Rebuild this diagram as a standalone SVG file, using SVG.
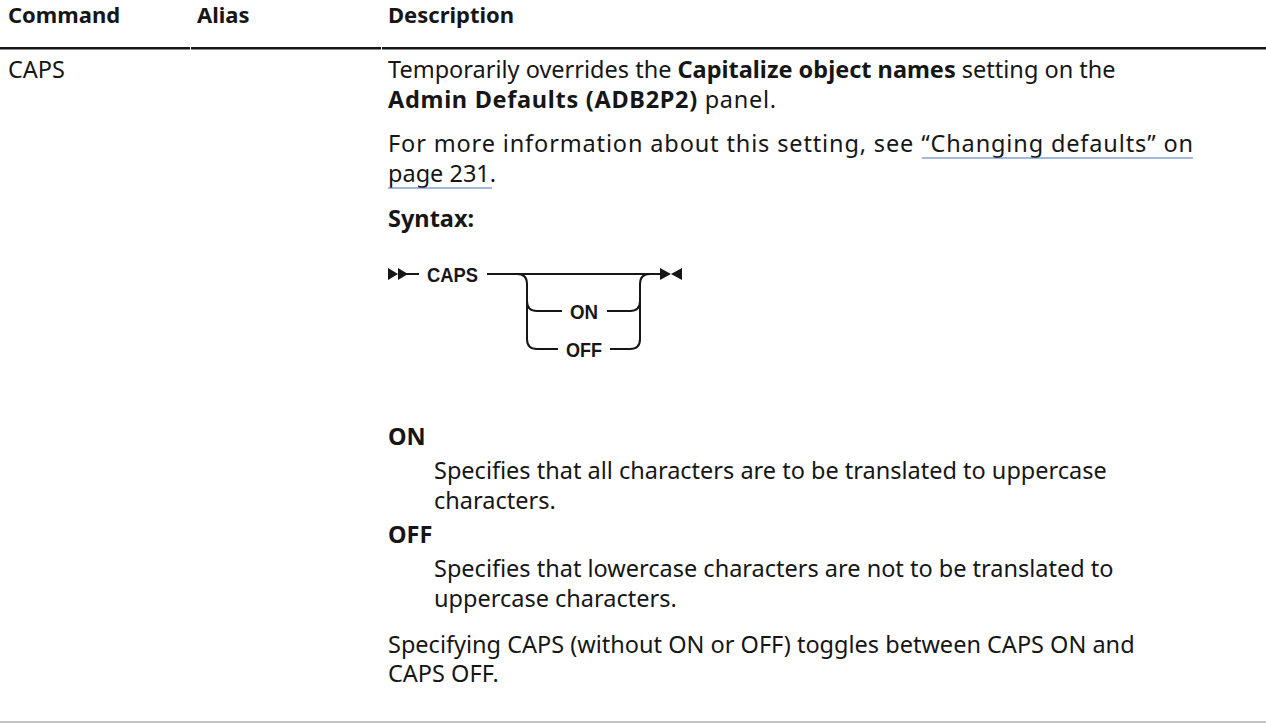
<svg xmlns="http://www.w3.org/2000/svg" width="1266" height="723" viewBox="0 0 1266 723">
<style>
text{font-family:"Noto Sans","Open Sans",sans-serif;font-size:23.5px;fill:#161616}
.h{font-size:22px;font-weight:bold}
.b{font-weight:bold}
.rr{font-family:"Liberation Sans",Arial,sans-serif;font-weight:bold;font-size:20px}
.ln{stroke:#161616;stroke-width:2;fill:none}
.ul{stroke:#4a6fb5;stroke-width:1}
</style>
<rect width="1266" height="723" fill="#fff"/>
<g id="header">
<text class="h" x="8" y="23">Command</text>
<text class="h" x="197" y="23">Alias</text>
<text class="h" x="388" y="23">Description</text>
<rect x="0" y="47" width="190" height="2.5" fill="#161616"/>
<rect x="191" y="47" width="190" height="2.5" fill="#161616"/>
<rect x="382" y="47" width="884" height="2.5" fill="#161616"/>
</g>
<g id="row">
<text x="8" y="78">CAPS</text>
<text x="388" y="78">Temporarily overrides the <tspan class="b">Capitalize object names</tspan> setting on the</text>
<text x="388" y="108" textLength="388" lengthAdjust="spacing"><tspan class="b">Admin Defaults (ADB2P2)</tspan> panel.</text>
<text x="388" y="152" textLength="805" lengthAdjust="spacing">For more information about this setting, see “Changing defaults” on</text>
<line class="ul" x1="922" y1="158" x2="1193" y2="158"/>
<text x="388" y="182">page 231.</text>
<line class="ul" x1="388" y1="188" x2="492" y2="188"/>
<text class="b" x="388" y="227">Syntax:</text>
</g>
<g id="syntax-diagram">
<g id="start">
<polygon points="388,268 398,274 388,280" fill="#161616"/>
<polygon points="398,268 408,274 398,280" fill="#161616"/>
<line class="ln" x1="406" y1="274" x2="419" y2="274"/>
</g>
<g id="caps"><text class="rr" x="427" y="281.5" textLength="51" lengthAdjust="spacingAndGlyphs">CAPS</text></g>
<g id="on"><text class="rr" x="570" y="318.5" textLength="28" lengthAdjust="spacingAndGlyphs">ON</text></g>
<g id="off"><text class="rr" x="566" y="356.5" textLength="36" lengthAdjust="spacingAndGlyphs">OFF</text></g>
<g id="end">
<polygon points="660,268 671,274 660,280" fill="#161616"/>
<polygon points="682,268 671,274 682,280" fill="#161616"/>
</g>
<g id="connectors">
<path class="ln" d="M487,274 H661"/>
<path class="ln" d="M517,274 Q527,274 527,284 V339 Q527,349 537,349 H558"/>
<path class="ln" d="M527,301 Q527,311 537,311 H562"/>
<path class="ln" d="M607,311 H630 Q640,311 640,301"/>
<path class="ln" d="M610,349 H630 Q640,349 640,339 V284 Q640,274 650,274"/>
</g>
</g>
<g id="params">
<text class="b" x="388" y="445">ON</text>
<text x="434" y="479">Specifies that all characters are to be translated to uppercase</text>
<text x="434" y="509">characters.</text>
<text class="b" x="388" y="543">OFF</text>
<text x="434" y="577">Specifies that lowercase characters are not to be translated to</text>
<text x="434" y="607">uppercase characters.</text>
<text x="388" y="653">Specifying CAPS (without ON or OFF) toggles between CAPS ON and</text>
<text x="388" y="682">CAPS OFF.</text>
</g>
<rect x="0" y="721" width="1266" height="2" fill="#c6c6c6"/>
</svg>
